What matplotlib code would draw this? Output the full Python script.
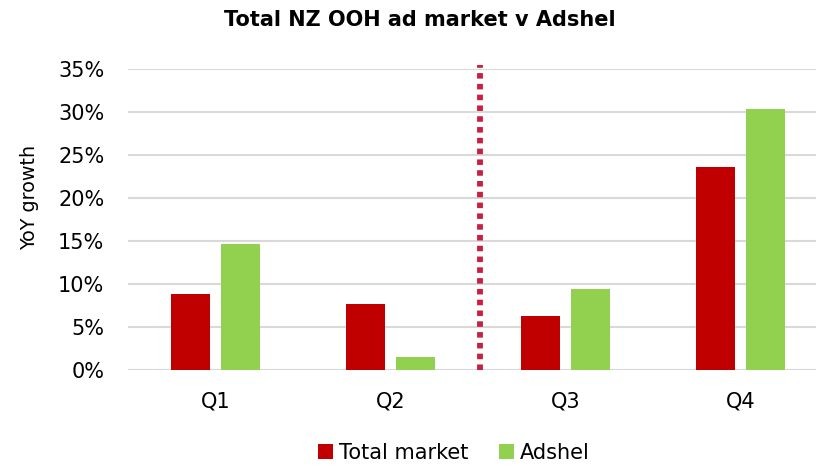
import numpy as np
import matplotlib.pyplot as plt
from matplotlib.ticker import FuncFormatter

quarters = ['Q1', 'Q2', 'Q3', 'Q4']
total_market = [8.8, 7.6, 6.2, 23.6]
adshel = [14.6, 1.5, 9.4, 30.4]

red = '#C00000'
green = '#92D050'

fig = plt.figure(figsize=(8.16, 4.68), dpi=100)
ax = fig.add_axes([128/816, 1 - 369.5/468, (816-128)/816, (369.5-69.5)/468])

x = np.arange(len(quarters))
w = 0.223
off = 0.143
ax.bar(x - off, total_market, w, color=red, label='Total market', zorder=3)
ax.bar(x + off, adshel, w, color=green, label='Adshel', zorder=3)

# divider between Q2 and Q3
ax.plot([1.51, 1.51], [0, 35.5], color='#C8203F', lw=4.2,
        linestyle=(0, (0.95, 0.9)), clip_on=False, zorder=4)

ax.set_xlim(-0.5, 3.43)
ax.set_ylim(0, 35)
ax.set_yticks(range(0, 36, 5))
ax.yaxis.set_major_formatter(FuncFormatter(lambda v, p: f'{v:.0f}%'))
ax.set_xticks(x)
ax.set_xticklabels(quarters)
ax.grid(axis='y', color='#D9D9D9', lw=1.5, zorder=0)
for s in ax.spines.values():
    s.set_visible(False)
ax.tick_params(length=0, labelsize=15, colors='black')
ax.tick_params(axis='y', pad=17)
ax.tick_params(axis='x', pad=16)

fig.text(30/816, 1 - 197/468, 'YoY growth', rotation=90, ha='center', va='center', fontsize=13.8)
fig.text(420/816, 1 - 20/468, 'Total NZ OOH ad market v Adshel',
         ha='center', va='center', fontsize=15, fontweight='bold')

ax.legend(loc='center', bbox_to_anchor=(454/816, 1 - 453/468), bbox_transform=fig.transFigure,
          ncol=2, frameon=False, fontsize=15, handlelength=0.7, handleheight=0.7,
          handletextpad=0.3, columnspacing=1.5)

fig.savefig('out.png', dpi=100)
